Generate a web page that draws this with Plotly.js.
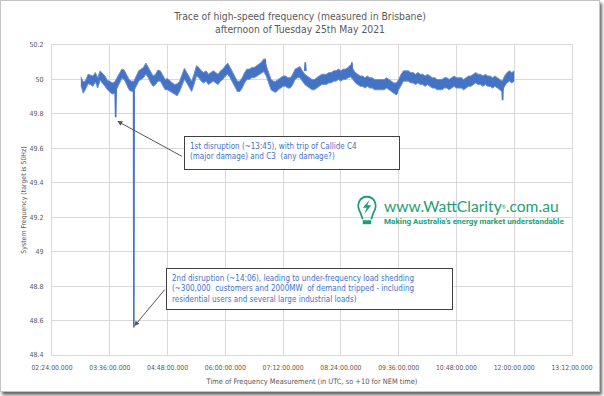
<!DOCTYPE html>
<html><head><meta charset="utf-8">
<script src="https://cdn.plot.ly/plotly-3.0.1.min.js"></script>
<style>
html,body{margin:0;padding:0;background:#fff;}
#chart{position:absolute;left:0;top:0;width:598px;height:390px;border:1px solid #c4c4c4;box-shadow:2px 3px 3px rgba(0,0,0,0.6);}
</style></head><body><div id="chart"></div><script>
// ---- data ----
const startTime = Date.UTC(2021, 4, 25, 3, 0, 0);   // first sample of the trace
const stepMinutes = 3;                               // sample spacing
const freqHigh = [
50.015,49.985,49.995,50.03,50.025,50.02,50.04,50.01,50.05,50.035,
50.02,49.995,49.99,49.98,49.985,50.01,50.04,50.06,50.055,50.03,
50.00,49.99,49.99,50.02,50.05,50.06,50.07,50.095,50.07,50.04,
50.02,50.03,50.055,50.05,50.02,50.00,50.005,49.99,49.98,49.97,
49.975,49.99,50.03,50.065,50.04,50.01,49.99,50.03,50.08,50.07,
50.05,50.04,50.05,50.03,50.04,50.05,50.04,50.03,50.05,50.06,
50.08,50.095,50.07,50.04,50.01,49.99,49.99,50.01,50.04,50.06,
50.06,50.07,50.07,50.08,50.09,50.10,50.12,50.08,50.04,50.00,
49.99,49.99,50.00,50.01,50.02,50.02,50.01,50.01,50.03,50.06,
50.07,50.075,50.05,50.03,50.02,50.01,50.00,50.00,50.01,50.02,
50.03,50.03,50.03,50.04,50.04,50.05,50.05,50.06,50.05,50.06,
50.06,50.07,50.085,50.06,50.04,50.03,50.02,50.02,50.01,50.02,
50.01,50.01,50.00,50.00,50.00,50.00,50.00,50.01,50.00,49.99,
49.98,49.98,50.00,50.03,50.05,50.05,50.05,50.04,50.04,50.03,
50.04,50.03,50.03,50.02,50.03,50.02,50.01,50.01,50.00,50.00,
50.00,50.01,50.01,50.00,50.01,50.02,50.01,50.01,50.01,50.00,
50.01,50.02,50.02,50.03,50.04,50.03,50.03,50.02,50.03,50.02,
50.02,50.01,50.02,50.01,50.00,49.99,50.02,50.04,50.05,50.04,
50.05];
const freqLow = [
49.965,49.92,49.945,49.975,49.97,49.96,49.985,49.95,49.995,49.98,
49.96,49.94,49.93,49.915,49.92,49.95,49.98,50.005,50.00,49.97,
49.94,49.93,49.935,49.96,49.99,50.00,50.01,50.03,50.01,49.98,
49.96,49.97,49.99,49.99,49.96,49.94,49.94,49.93,49.92,49.91,
49.905,49.93,49.97,50.00,49.98,49.95,49.93,49.97,50.02,50.01,
49.99,49.98,49.99,49.97,49.98,49.99,49.98,49.97,49.99,50.00,
50.02,50.03,50.01,49.98,49.95,49.93,49.93,49.95,49.98,50.00,
50.00,50.01,50.01,50.02,50.03,50.04,50.045,50.02,49.98,49.94,
49.93,49.925,49.94,49.95,49.96,49.96,49.95,49.95,49.97,50.00,
50.01,50.01,49.99,49.97,49.96,49.95,49.94,49.94,49.95,49.96,
49.97,49.97,49.97,49.98,49.98,49.99,49.99,50.00,49.99,50.00,
50.00,50.01,50.015,50.00,49.98,49.97,49.96,49.96,49.95,49.96,
49.95,49.95,49.94,49.94,49.94,49.94,49.94,49.95,49.94,49.93,
49.92,49.91,49.94,49.97,49.99,49.99,49.99,49.98,49.98,49.97,
49.98,49.97,49.97,49.96,49.97,49.96,49.95,49.95,49.94,49.94,
49.94,49.95,49.95,49.94,49.95,49.96,49.95,49.95,49.95,49.94,
49.95,49.96,49.96,49.97,49.98,49.97,49.97,49.96,49.97,49.96,
49.96,49.95,49.96,49.95,49.94,49.93,49.96,49.98,49.99,49.98,
49.99];
// short excursions (disruptions and spikes)
const eventTimes = [
'2021-05-25 03:42:40','2021-05-25 03:43:20','2021-05-25 03:44:00',null,
'2021-05-25 04:05:40','2021-05-25 04:06:00','2021-05-25 04:06:20',null,
'2021-05-25 06:49:00','2021-05-25 06:49:40','2021-05-25 06:50:20',null,
'2021-05-25 07:39:00','2021-05-25 07:39:40','2021-05-25 07:40:20',null,
'2021-05-25 08:37:00','2021-05-25 08:37:40','2021-05-25 08:38:20',null,
'2021-05-25 09:33:00','2021-05-25 09:33:40','2021-05-25 09:34:20',null,
'2021-05-25 11:45:00','2021-05-25 11:45:30','2021-05-25 11:46:00'];
const eventFreq = [
49.94,49.78,49.95,null,
49.96,48.56,49.97,null,
50.06,50.12,50.06,null,
50.05,50.10,50.05,null,
50.05,50.10,50.05,null,
49.95,49.915,49.95,null,
49.94,49.88,49.95];
const xRange = ['2021-05-25 02:24:00','2021-05-25 13:12:00'];
const xTick0 = '2021-05-25 02:24:00';
const yRange = [48.4, 50.2];
const titleLines = ['Trace of high-speed frequency (measured in Brisbane)','afternoon of Tuesday 25th May 2021'];
const xTitle = 'Time of Frequency Measurement (in UTC, so +10 for NEM time)';
const yTitle = 'System Frequency (target is 50Hz)';
const note1 = ['1st disruption (~13:45), with trip of Callide C4','(major damage) and C3  (any damage?)'];
const note2 = ['2nd disruption (~14:06), leading to under-frequency load shedding','(~300,000  customers and 2000MW  of demand tripped - including','residential users and several large industrial loads)'];
const arrow1 = {tip:['2021-05-25 03:45:25',49.758]};
const arrow2 = {tip:['2021-05-25 04:06:37',48.568]};

// ---- build ----
const sampleTimes = freqHigh.map((_, i) => startTime + i * stepMinutes * 60000);
const BLUE = '#4472C4', EDGE = '#6f92d3', GREY = '#595959', GREEN = '#1f9e74';
const FONT = '"Liberation Sans Narrow","DejaVu Sans Condensed","Liberation Sans",sans-serif';
// plot-area pixel box (absolute page pixels) for placing paper-referenced decorations
const PL = 52, PR = 571.6, PT = 44.5, PB = 355;
const px = p => (p - PL) / (PR - PL);
const py = p => (PB - p) / (PB - PT);

const traces = [
  {x: sampleTimes, y: freqLow, type: 'scatter', mode: 'lines', line: {color: EDGE, width: 1}, hoverinfo: 'skip'},
  {x: sampleTimes, y: freqHigh, type: 'scatter', mode: 'lines', fill: 'tonexty', fillcolor: BLUE, line: {color: EDGE, width: 1}, hoverinfo: 'skip'},
  {x: eventTimes, y: eventFreq, type: 'scatter', mode: 'lines', line: {color: BLUE, width: 1.6}, connectgaps: false, hoverinfo: 'skip'}
];

const boxFont = {family: FONT, size: 8, color: BLUE};
const annotations = [
  {xref: 'paper', yref: 'paper', x: px(184), y: py(135.7), xanchor: 'left', yanchor: 'top',
   text: note1.join('<br>'), showarrow: false, align: 'left', valign: 'top',
   width: 204, height: 22, borderpad: 5, bordercolor: '#404040', borderwidth: 1, bgcolor: '#fff', font: boxFont},
  {xref: 'paper', yref: 'paper', x: px(166), y: py(268), xanchor: 'left', yanchor: 'top',
   text: note2.join('<br>'), showarrow: false, align: 'left', valign: 'top',
   width: 275, height: 30, borderpad: 5, bordercolor: '#404040', borderwidth: 1, bgcolor: '#fff', font: boxFont},
  {xref: 'x', yref: 'y', x: arrow1.tip[0], y: arrow1.tip[1], text: '', showarrow: true,
   ax: 183.3 - 117.3, ay: 156.7 - 120.7, arrowhead: 2, arrowsize: 1, arrowwidth: 1, arrowcolor: '#555', standoff: 0},
  {xref: 'x', yref: 'y', x: arrow2.tip[0], y: arrow2.tip[1], text: '', showarrow: true,
   ax: 166 - 134.3, ay: 288 - 326, arrowhead: 2, arrowsize: 1, arrowwidth: 1, arrowcolor: '#555', standoff: 0},
  {xref: 'paper', yref: 'paper', x: px(382), y: py(206), xanchor: 'left', yanchor: 'middle', showarrow: false,
   text: 'www.WattClarity<span style="font-size:7px"><sup>®</sup></span>.com.au', font: {family: 'Lato, sans-serif', size: 15.6, color: GREEN}},
  {xref: 'paper', yref: 'paper', x: px(382), y: py(221), xanchor: 'left', yanchor: 'middle', showarrow: false,
   text: '<b>Making Australia\'s energy market understandable</b>', font: {family: 'Roboto, sans-serif', size: 8.1, color: GREEN}}
];

const P = (a, b) => px(a) + ',' + py(b);
const shapes = [
  // light-bulb outline: round top narrowing into a neck
  {type: 'path', xref: 'paper', yref: 'paper',
   path: 'M' + P(362.5, 219) + 'L' + P(360.2, 212.5) + 'C' + P(355.5, 205) + ' ' + P(359, 196.5) + ' ' + P(366.7, 196.5) +
         'C' + P(374.4, 196.5) + ' ' + P(377.9, 205) + ' ' + P(373.2, 212.5) + 'L' + P(371, 219),
   line: {color: GREEN, width: 1.8}},
  {type: 'rect', xref: 'paper', yref: 'paper', x0: px(362.5), x1: px(371), y0: py(224), y1: py(220), fillcolor: GREEN, line: {width: 0}},
  {type: 'path', xref: 'paper', yref: 'paper',
   path: 'M' + P(369.5, 199.5) + 'L' + P(362.5, 207.5) + 'L' + P(366.5, 207.5) + 'L' + P(364, 214) + 'L' + P(371, 205) + 'L' + P(367, 205) + 'Z',
   fillcolor: GREEN, line: {width: 0}}
];

const layout = {
  width: 598, height: 390,
  margin: {l: 51, r: 27.4, t: 43.5, b: 36},
  paper_bgcolor: '#fff', plot_bgcolor: '#fff',
  showlegend: false,
  title: {text: titleLines.join('<br>'), x: 0.5, xanchor: 'center', yref: 'container', y: 1 - 19 / 390, yanchor: 'top',
          font: {family: FONT, size: 10.3, color: GREY}},
  xaxis: {type: 'date', range: xRange, tick0: xTick0, dtick: 72 * 60000, tickformat: '%H:%M:%S.%L',
          showgrid: true, gridcolor: '#d9d9d9', gridwidth: 1, zeroline: false,
          showline: true, linecolor: '#d9d9d9', mirror: true, ticks: '', ticklabelstandoff: 6,
          tickfont: {family: FONT, size: 6.8, color: GREY},
          title: {text: xTitle, standoff: 7, font: {family: FONT, size: 7.4, color: GREY}}},
  yaxis: {range: yRange, dtick: 0.2, tick0: 48.4, showgrid: true, gridcolor: '#d9d9d9', gridwidth: 1, zeroline: false,
          showline: true, linecolor: '#d9d9d9', mirror: true, ticks: '', ticklabelstandoff: 6,
          tickfont: {family: FONT, size: 7, color: GREY},
          title: {text: yTitle, standoff: 2, font: {family: FONT, size: 6.9, color: GREY}}},
  annotations: annotations,
  shapes: shapes
};
Plotly.newPlot('chart', traces, layout, {displayModeBar: false, staticPlot: true});
</script></body></html>
